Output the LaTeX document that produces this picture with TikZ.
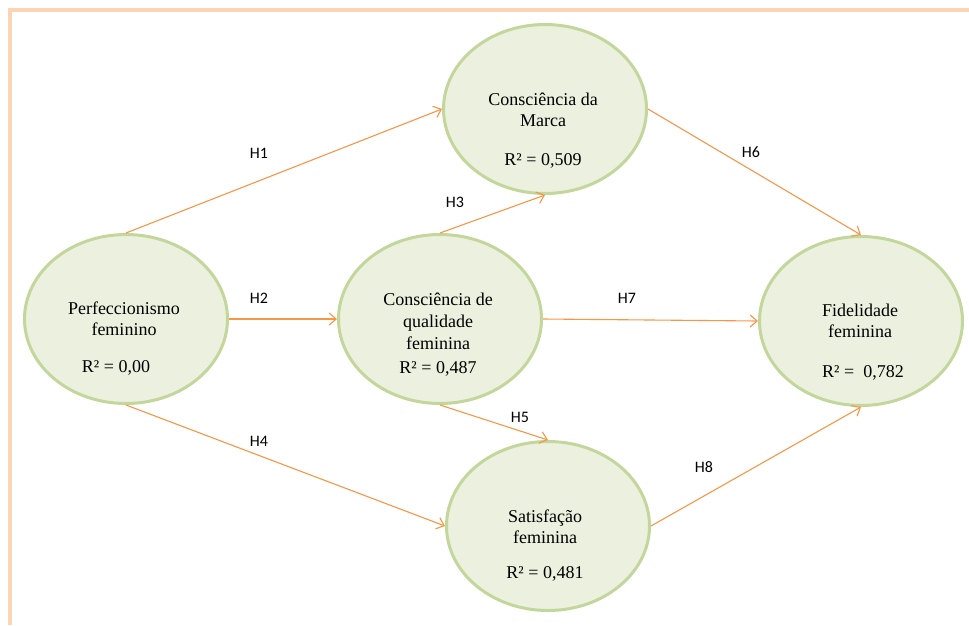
\documentclass[tikz,border=0pt]{standalone}
\usepackage{fontspec}
\setmainfont{Liberation Serif}
\newfontfamily\hfont{Carlito}
\usetikzlibrary{shapes.geometric, arrows.meta}

\definecolor{olivebd}{HTML}{C3D69B}
\definecolor{olivefl}{HTML}{EBF1DE}
\definecolor{arrorange}{HTML}{F79646}
\definecolor{framepeach}{HTML}{FBD4B4}

\begin{document}
\begin{tikzpicture}[x=1pt, y=-1pt,
    latent/.style={ellipse, draw=olivebd, fill=olivefl, line width=3pt,
                   minimum width=203pt, minimum height=169pt},
    hyp/.style={draw=arrorange, line width=1.1pt,
                -{Straight Barb[length=7pt, width=12pt]}},
    hlabel/.style={font=\hfont\fontsize{16}{18}\selectfont, inner sep=0pt},
    vname/.style={align=center, font=\fontsize{18}{21}\selectfont, inner sep=0pt},
    rsq/.style={anchor=base, font=\fontsize{18}{21}\selectfont, inner sep=0pt}]
  \useasboundingbox (0,0) rectangle (969,625);

  % Outer frame (only top and left edges are visible)
  \draw[framepeach, line width=3.5pt] (10,625) -- (10,10) -- (969,10);

  % Latent variables
  \node[latent] (perf)   at (126,319) {}; % Perfeccionismo
  \node[latent] (qual)   at (440,319) {}; % Consciencia de qualidade
  \node[latent] (marca)  at (545,109) {}; % Consciencia da marca
  \node[latent] (satis)  at (548,526) {}; % Satisfacao
  \node[latent] (fidel)  at (861,321) {}; % Fidelidade

  % Names inside the ellipses
  \node[vname] (perf-n)  at (124,319) {Perfeccionismo\\feminino};
  \node[vname] (marca-n) at (543,110) {Consciência da\\Marca};
  \node[vname, font=\fontsize{18}{22}\selectfont] (qual-n) at (438,321)
        {Consciência de\\qualidade\\feminina};
  \node[vname] (fidel-n) at (860,321) {Fidelidade\\feminina};
  \node[vname] (satis-n) at (545,527) {Satisfação\\feminina};

  % Explained variance
  \node[rsq] (perf-r)  at (116,372) {R² = 0,00};
  \node[rsq] (marca-r) at (543,165) {R² = 0,509};
  \node[rsq] (qual-r)  at (438,373) {R² = 0,487};
  \node[rsq] (fidel-r) at (863,377) {R² =\ \ 0,782};
  \node[rsq] (satis-r) at (545,578) {R² = 0,481};

  % Hypothesised paths
  \foreach \a/\b in {perf.north/marca.west, perf.east/qual.west,
                     qual.north/marca.south, perf.south/satis.west,
                     qual.south/satis.north, marca.east/fidel.north,
                     qual.east/fidel.west, satis.east/fidel.south} {
    \draw[hyp] (\a) -- (\b);
  }

  % Path labels
  \foreach \h/\x/\y in {1/259/153, 2/259/298, 3/455/202, 4/259/441,
                        5/520/417, 6/751/152, 7/627/298, 8/704/467} {
    \node[hlabel] (h\h) at (\x,\y) {H\h};
  }
\end{tikzpicture}
\end{document}
